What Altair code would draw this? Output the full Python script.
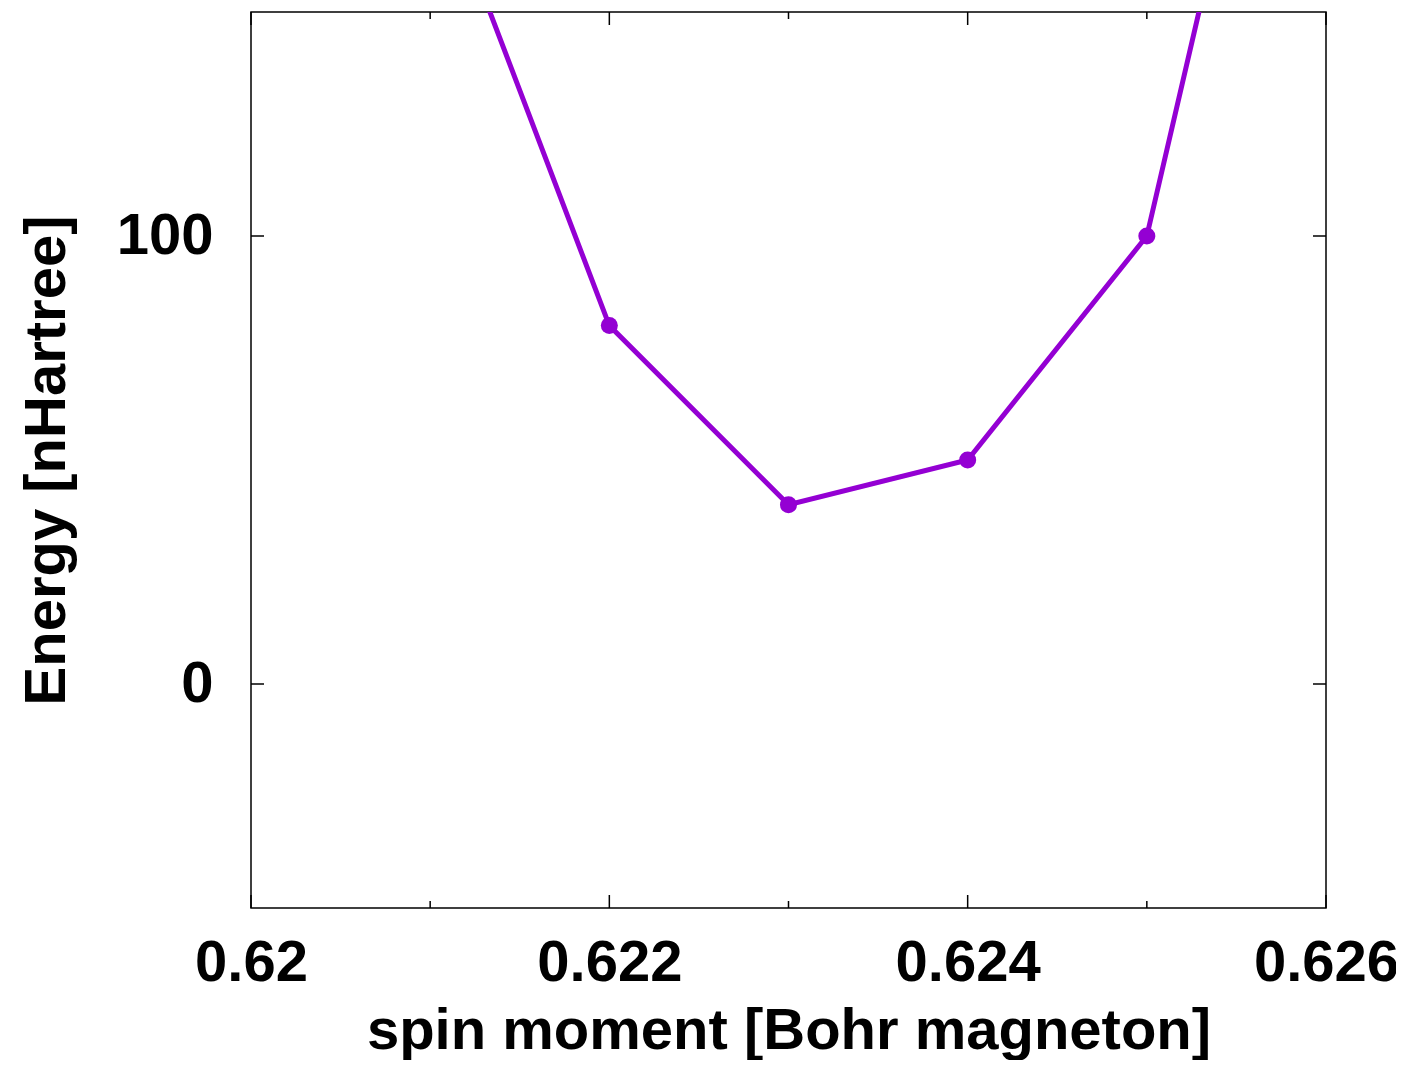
import altair as alt
import pandas as pd

# data
spin = [0.621, 0.622, 0.623, 0.624, 0.625, 0.626]
energy = [185, 80, 40, 50, 100, 272]

x_major = [0.62, 0.622, 0.624, 0.626]
x_minor = [0.621, 0.623, 0.625]
y_major = [0, 100]

W, H = 1075, 896
FONT = "Liberation Sans"
FS = 58
COLOR = "#9400D3"

df = pd.DataFrame({"spin": spin, "energy": energy})
dfx_major = pd.DataFrame({"t": x_major})
dfx_minor = pd.DataFrame({"t": x_minor})
dfy_major = pd.DataFrame({"t": y_major})

xscale = alt.Scale(domain=[0.62, 0.626], nice=False, zero=False)
yscale = alt.Scale(domain=[-50, 150], nice=False, zero=False)

xaxis = alt.Axis(
    title="spin moment [Bohr magneton]",
    values=x_major,
    format=".3~f",
    ticks=False,
    domain=False,
    grid=False,
    labelFont=FONT,
    labelFontSize=FS,
    labelFontWeight="bold",
    labelColor="black",
    labelPadding=26,
    labelFlush=False,
    labelOverlap=False,
    titleFont=FONT,
    titleFontSize=FS,
    titleFontWeight="bold",
    titleColor="black",
    titlePadding=10,
)
yaxis = alt.Axis(
    title="Energy [nHartree]",
    values=y_major,
    ticks=False,
    domain=False,
    grid=False,
    labelFont=FONT,
    labelFontSize=FS,
    labelFontWeight="bold",
    labelColor="black",
    labelPadding=38,
    labelFlush=False,
    labelOverlap=False,
    titleFont=FONT,
    titleFontSize=FS,
    titleFontWeight="bold",
    titleColor="black",
    titlePadding=40,
)

line = alt.Chart(df).mark_line(color=COLOR, strokeWidth=5, clip=True).encode(
    x=alt.X("spin:Q", scale=xscale, axis=xaxis),
    y=alt.Y("energy:Q", scale=yscale, axis=yaxis),
)
points = alt.Chart(df).mark_circle(color=COLOR, size=290, opacity=1, clip=True).encode(
    x=alt.X("spin:Q", scale=xscale),
    y=alt.Y("energy:Q", scale=yscale),
)

MAJ, MIN = 13, 7
tick_style = dict(color="black", strokeWidth=1.5)

xb_major = alt.Chart(dfx_major).mark_rule(**tick_style).encode(
    x=alt.X("t:Q", scale=xscale), y=alt.value(H), y2=alt.value(H - MAJ))
xt_major = alt.Chart(dfx_major).mark_rule(**tick_style).encode(
    x=alt.X("t:Q", scale=xscale), y=alt.value(0), y2=alt.value(MAJ))
xb_minor = alt.Chart(dfx_minor).mark_rule(**tick_style).encode(
    x=alt.X("t:Q", scale=xscale), y=alt.value(H), y2=alt.value(H - MIN))
xt_minor = alt.Chart(dfx_minor).mark_rule(**tick_style).encode(
    x=alt.X("t:Q", scale=xscale), y=alt.value(0), y2=alt.value(MIN))
yl_major = alt.Chart(dfy_major).mark_rule(**tick_style).encode(
    y=alt.Y("t:Q", scale=yscale), x=alt.value(0), x2=alt.value(MAJ))
yr_major = alt.Chart(dfy_major).mark_rule(**tick_style).encode(
    y=alt.Y("t:Q", scale=yscale), x=alt.value(W), x2=alt.value(W - MAJ))

chart = alt.layer(
    xb_major, xt_major, xb_minor, xt_minor, yl_major, yr_major, line, points
).properties(
    width=W,
    height=H,
    background="white",
    autosize=alt.AutoSizeParams(type="none"),
    padding={"left": 243, "top": 4, "right": 70, "bottom": 152},
).configure_view(
    stroke="black", strokeWidth=1.5
)

chart.save("out.html", embed_options={"renderer": "svg", "actions": False})
